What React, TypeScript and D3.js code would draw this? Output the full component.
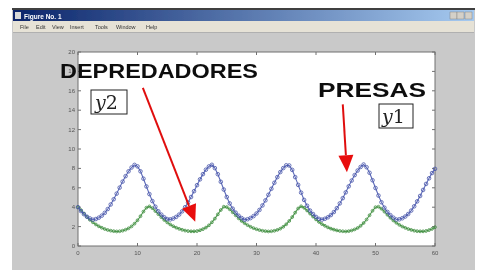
import React from 'react';
import * as d3 from 'd3';

// Lotka-Volterra run, sampled every 0.5 time units from t = 0 to t = 60
const tStep = 0.5;

const prey = [
  4.0, 3.6, 3.28, 3.02, 2.84, 2.71, 2.78, 2.92, 3.13, 3.42, 3.81, 4.28, 4.82, 5.4, 6.02, 6.64, 7.2, 7.7, 8.09, 8.36,
  8.21, 7.7, 6.94, 6.14, 5.35, 4.63, 4.05, 3.58, 3.24, 2.96, 2.77, 2.74, 2.83, 3.0, 3.24, 3.57, 4.0, 4.49, 5.05, 5.65,
  6.27, 6.87, 7.41, 7.87, 8.2, 8.37, 8.03, 7.4, 6.62, 5.82, 5.05, 4.39, 3.85, 3.44, 3.12, 2.88, 2.7, 2.76, 2.88, 3.08,
  3.35, 3.72, 4.18, 4.7, 5.28, 5.9, 6.52, 7.1, 7.62, 8.03, 8.32, 8.3, 7.85, 7.1, 6.3, 5.5, 4.75, 4.15, 3.65, 3.3,
  3.0, 2.8, 2.72, 2.81, 2.96, 3.19, 3.5, 3.9, 4.39, 4.93, 5.53, 6.15, 6.75, 7.31, 7.78, 8.15, 8.4, 8.12, 7.55, 6.78,
  5.98, 5.2, 4.51, 3.95, 3.51, 3.18, 2.92, 2.73, 2.75, 2.86, 3.04, 3.3, 3.65, 4.09, 4.6, 5.16, 5.78, 6.4, 6.98, 7.52,
  7.95,
];

const predators = [
  4.0, 3.7, 3.35, 3.0, 2.7, 2.44, 2.22, 2.03, 1.88, 1.75, 1.65, 1.58, 1.53, 1.5, 1.52, 1.58, 1.68, 1.82, 2.02, 2.3,
  2.65, 3.07, 3.55, 3.95, 4.08, 3.9, 3.6, 3.28, 2.97, 2.68, 2.43, 2.22, 2.04, 1.89, 1.77, 1.67, 1.59, 1.54, 1.51, 1.51,
  1.54, 1.62, 1.74, 1.9, 2.13, 2.44, 2.82, 3.26, 3.71, 4.05, 4.01, 3.78, 3.47, 3.16, 2.85, 2.58, 2.35, 2.15, 1.98, 1.84,
  1.73, 1.64, 1.57, 1.53, 1.5, 1.52, 1.57, 1.66, 1.79, 1.98, 2.24, 2.58, 2.98, 3.44, 3.87, 4.09, 3.94, 3.66, 3.34, 3.03,
  2.74, 2.48, 2.26, 2.08, 1.92, 1.79, 1.69, 1.61, 1.55, 1.52, 1.5, 1.53, 1.6, 1.71, 1.86, 2.08, 2.37, 2.73, 3.17, 3.63,
  4.0, 4.05, 3.84, 3.54, 3.22, 2.91, 2.63, 2.39, 2.18, 2.01, 1.87, 1.75, 1.66, 1.58, 1.53, 1.51, 1.51, 1.55, 1.64, 1.76,
  1.94,
];

const xTicks = [0, 10, 20, 30, 40, 50, 60];
const yTicks = [0, 2, 4, 6, 8, 10, 12, 14, 16, 18, 20];
const menuItems = ['File', 'Edit', 'View', 'Insert', 'Tools', 'Window', 'Help'];

// arrows in data coordinates: [fromT, fromV, toT, toV]
const arrowPredators = [10.9, 16.3, 19.7, 2.5];
const arrowPrey = [44.5, 14.6, 45.2, 7.6];

const W = 478;
const H = 270;
const plot = { left: 78, right: 435, top: 52, bottom: 246 };

function Arrow({ x1, y1, x2, y2 }: { x1: number; y1: number; x2: number; y2: number }) {
  const ang = Math.atan2(y2 - y1, x2 - x1);
  const len = 17;
  const half = 7.5;
  const bx = x2 - len * Math.cos(ang);
  const by = y2 - len * Math.sin(ang);
  const px = -Math.sin(ang) * half;
  const py = Math.cos(ang) * half;
  return (
    <g>
      <line x1={x1} y1={y1} x2={bx} y2={by} stroke="#e01010" strokeWidth={2} />
      <polygon points={`${x2},${y2} ${bx + px},${by + py} ${bx - px},${by - py}`} fill="#e81010" />
    </g>
  );
}

export default function App() {
  const t = prey.map((_, i) => i * tStep);
  const x = d3.scaleLinear().domain([0, 60]).range([plot.left, plot.right]);
  const y = d3.scaleLinear().domain([0, 20]).range([plot.bottom, plot.top]);

  const line = d3
    .line<number>()
    .x((_, i) => x(t[i]))
    .y((d) => y(d));

  const menuX = [20, 36, 52, 70, 95, 116, 146];

  return (
    <div style={{ position: 'absolute', left: 0, top: 0 }}>
      <svg width={W} height={H} style={{ display: 'block' }}>
        <defs>
          <linearGradient id="title" x1="0" x2="1" y1="0" y2="0">
            <stop offset="0" stopColor="#0a246a" />
            <stop offset="1" stopColor="#a6caf0" />
          </linearGradient>
          <filter id="soft" x="-5%" y="-5%" width="110%" height="110%">
            <feGaussianBlur stdDeviation="0.45" />
          </filter>
        </defs>
        <rect width={W} height={H} fill="#ffffff" />
        <g filter="url(#soft)">
          {/* window frame */}
          <rect x={12} y={8} width={463} height={262} fill="#c9c9c9" />
          <rect x={12} y={8} width={463} height={2} fill="#404040" />
          <rect x={13} y={10} width={461} height={11} fill="url(#title)" />
          <rect x={15} y={12} width={6} height={7} fill="#d8d8d8" />
          <text x={24} y={18.5} fontSize={6.5} fontWeight="bold" fill="#ffffff" fontFamily="Liberation Sans, Arial, sans-serif">
            Figure No. 1
          </text>
          {[450, 457, 465].map((bx) => (
            <rect key={bx} x={bx} y={12} width={7} height={7} fill="#d4d0c8" stroke="#777" strokeWidth={0.4} />
          ))}
          <rect x={13} y={21} width={461} height={11} fill="#e6e2d6" />
          {menuItems.map((m, i) => (
            <text key={m} x={menuX[i]} y={29} fontSize={5.5} fill="#333" fontFamily="Liberation Sans, Arial, sans-serif">
              {m}
            </text>
          ))}
          <line x1={13} x2={474} y1={32.5} y2={32.5} stroke="#b0b0b0" />

          {/* axes area */}
          <rect x={plot.left} y={plot.top} width={plot.right - plot.left} height={plot.bottom - plot.top} fill="#ffffff" stroke="#707070" strokeWidth={1} />
          {xTicks.map((v) => (
            <g key={`x${v}`}>
              <line x1={x(v)} x2={x(v)} y1={plot.bottom} y2={plot.bottom - 3} stroke="#707070" />
              <line x1={x(v)} x2={x(v)} y1={plot.top} y2={plot.top + 3} stroke="#707070" />
              <text x={x(v)} y={plot.bottom + 9} fontSize={6} textAnchor="middle" fill="#555" fontFamily="Liberation Sans, Arial, sans-serif">
                {v}
              </text>
            </g>
          ))}
          {yTicks.map((v) => (
            <g key={`y${v}`}>
              <line x1={plot.left} x2={plot.left + 3} y1={y(v)} y2={y(v)} stroke="#707070" />
              <line x1={plot.right} x2={plot.right - 3} y1={y(v)} y2={y(v)} stroke="#707070" />
              <text x={plot.left - 3} y={y(v) + 2} fontSize={6} textAnchor="end" fill="#555" fontFamily="Liberation Sans, Arial, sans-serif">
                {v}
              </text>
            </g>
          ))}

          {/* series */}
          <path d={line(predators) ?? ''} fill="none" stroke="#4f9a4f" strokeWidth={1.1} />
          {predators.map((d, i) => (
            <circle key={`g${i}`} cx={x(t[i])} cy={y(d)} r={1.4} fill="none" stroke="#3f8d3f" strokeWidth={0.8} />
          ))}
          <path d={line(prey) ?? ''} fill="none" stroke="#5b68b8" strokeWidth={1.1} />
          {prey.map((d, i) => (
            <circle key={`b${i}`} cx={x(t[i])} cy={y(d)} r={1.8} fill="none" stroke="#4654a8" strokeWidth={0.8} />
          ))}

          {/* annotations */}
          <Arrow x1={x(arrowPredators[0])} y1={y(arrowPredators[1])} x2={x(arrowPredators[2])} y2={y(arrowPredators[3])} />
          <Arrow x1={x(arrowPrey[0])} y1={y(arrowPrey[1])} x2={x(arrowPrey[2])} y2={y(arrowPrey[3])} />

          <text x={60} y={78} fontSize={21} fontWeight="bold" fill="#111" fontFamily="Liberation Sans, Arial, sans-serif" textLength={198} lengthAdjust="spacingAndGlyphs">
            DEPREDADORES
          </text>
          <text x={318} y={97} fontSize={21} fontWeight="bold" fill="#111" fontFamily="Liberation Sans, Arial, sans-serif" textLength={108} lengthAdjust="spacingAndGlyphs">
            PRESAS
          </text>

          <rect x={91} y={90} width={36} height={24} fill="#ffffff" stroke="#222" strokeWidth={1} />
          <text x={95} y={109} fontSize={19} fill="#222" fontFamily="DejaVu Serif, serif">
            <tspan fontStyle="italic">y</tspan>
            <tspan>2</tspan>
          </text>
          <rect x={379} y={104} width={34} height={24} fill="#ffffff" stroke="#222" strokeWidth={1} />
          <text x={382} y={123} fontSize={19} fill="#222" fontFamily="DejaVu Serif, serif">
            <tspan fontStyle="italic">y</tspan>
            <tspan>1</tspan>
          </text>
        </g>
      </svg>
    </div>
  );
}
